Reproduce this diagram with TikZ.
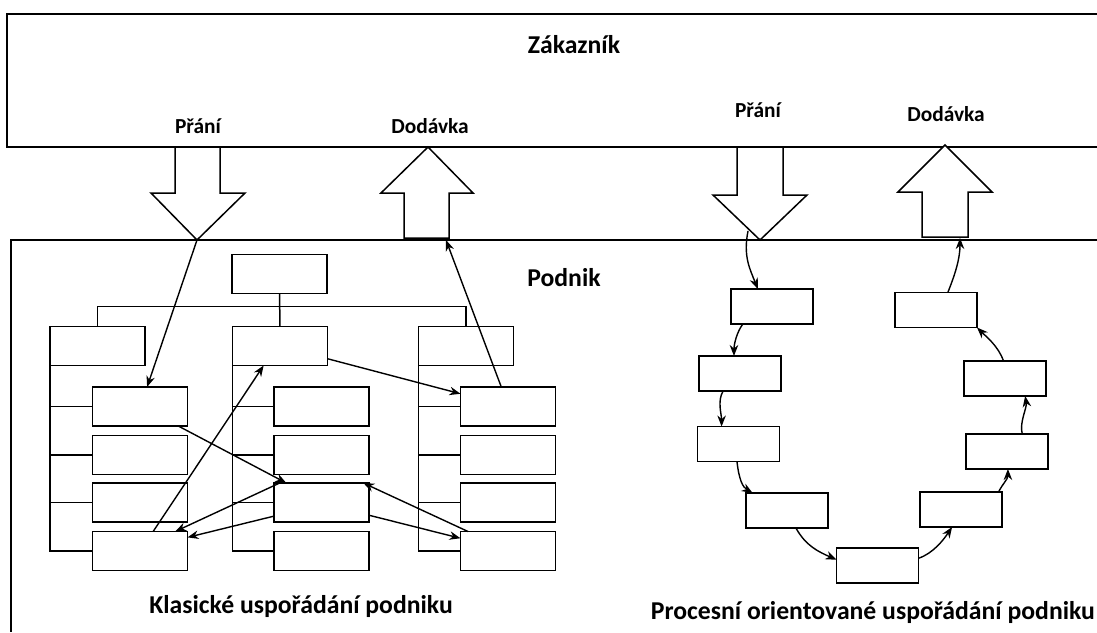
\documentclass[tikz,border=0pt]{standalone}
\usepackage{fontspec}
\setmainfont{Carlito}
\usetikzlibrary{arrows.meta}
\begin{document}
\begin{tikzpicture}[x=1pt,y=-1pt,
  box/.style={draw, line width=1.5pt, minimum width=95pt, minimum height=39pt, inner sep=0pt, outer sep=0pt},
  pbox/.style={draw, line width=1.5pt, minimum width=82pt, minimum height=35pt, inner sep=0pt, outer sep=0pt},
  frame/.style={line width=1.5pt},
  tree/.style={line width=1.5pt},
  blockarrow/.style={draw, fill=white, line width=1.5pt, line join=miter},
  link/.style={line width=1.4pt, -{Stealth[length=11pt,width=8.5pt]}},
  bigtext/.style={font=\bfseries\fontsize{25.7}{30}\selectfont, inner sep=0pt, anchor=base},
  smalltext/.style={font=\bfseries\fontsize{21.4}{25}\selectfont, inner sep=0pt, anchor=base}
]
\useasboundingbox (0,0) rectangle (1097,632);
\fill[white] (0,0) rectangle (1097,632);

% frames
\draw[frame] (1097,14) -- (7,14) -- (7,147) -- (1097,147);
\draw[frame] (1097,240) -- (11,240) -- (11,632);

% block arrows
\draw[blockarrow] (175,147) -- (220,147) -- (220,193) -- (245,193) -- (197,240) -- (151,193) -- (175,193) -- cycle;
\draw[blockarrow] (404,238) -- (449,238) -- (449,193) -- (473,193) -- (428,147) -- (381,193) -- (404,193) -- cycle;
\draw[blockarrow] (737,147) -- (783,147) -- (783,195) -- (807,195) -- (760,240) -- (713,195) -- (737,195) -- cycle;
\draw[blockarrow] (922,237) -- (968,237) -- (968,192) -- (992,192) -- (945,145) -- (898,192) -- (922,192) -- cycle;

\coordinate (pL) at (197,240);
\coordinate (dL) at (446,240);
\coordinate (pR) at (748,231);
\coordinate (dR) at (960,238);

% texts
\node[bigtext] (zak) at (574,53) {Zákazník};
\node[smalltext] (pl) at (198,133) {Přání};
\node[smalltext] (dl) at (430,133) {Dodávka};
\node[smalltext] (pr) at (758,117) {Přání};
\node[smalltext] (dr) at (946,121) {Dodávka};
\node[bigtext] (pod) at (564,286) {Podnik};
\node[bigtext] (kl) at (301,613) {Klasické uspořádání podniku};
\node[bigtext, anchor=base east] (pro) at (1095,619) {Procesní orientované uspořádání podniku};

% classic tree
\node[box] (T) at (279.5,274) {};
\node[box] (HL) at (97.5,346) {};
\node[box] (HM) at (280,346) {};
\node[box] (HR) at (466,346) {};
\foreach \c/\x in {L/140,M/321.5,R/508}{
  \node[box] (\c1) at (\x,406.5) {};
  \node[box] (\c2) at (\x,455) {};
  \node[box] (\c3) at (\x,502.5) {};
  \node[box] (\c4) at (\x,551) {};
}
\draw[tree] (T.south) -- (HM.north);
\draw[tree] (HL.north) -- ++(0,-20) -| (HR.north);
\foreach \h/\c in {HL/L,HM/M,HR/R}{
  \draw[tree] (\h.south west) -- (\h.south west |- \c4.west) -- (\c4.west);
  \draw[tree] (\h.south west |- \c1.west) -- (\c1.west);
  \draw[tree] (\h.south west |- \c2.west) -- (\c2.west);
  \draw[tree] (\h.south west |- \c3.west) -- (\c3.west);
}

% classic connectors
\draw[link] (pL) -- (L1.70);
\draw[link] (R1.109) -- (dL);
\draw[link] (HM.-15) -- (R1.165);
\draw[link] (L1.-27) -- (M3.151);
\draw[link] (L4.56) -- (HM.-130);
\draw[link] (M3.155) -- (L4.29);
\draw[link] (M3.196) -- (L4.16);
\draw[link] (M3.-15) -- (R4.165);
\draw[link] (R4.154) -- (M3.25);

% process boxes
\node[pbox] (B1) at (772,306.5) {};
\node[pbox] (B2) at (740,373.5) {};
\node[pbox] (B3) at (738.5,444) {};
\node[pbox] (B4) at (787,510.5) {};
\node[pbox] (B5) at (877.5,565.5) {};
\node[pbox] (B6) at (961,509.5) {};
\node[pbox] (B7) at (1007,451.5) {};
\node[pbox] (B8) at (1005,378.5) {};
\node[pbox] (B9) at (936,310) {};

% process connectors
\draw[link] (pR) .. controls +(-5,25) and +(-8,-20) .. (B1.129);
\draw[link] (B1.211) .. controls +(-6,8) and +(0,-12) .. (B2.109);
\draw[link] (B2.226) .. controls +(-6,10) and +(0,-12) .. (B3.134);
\draw[link] (B3.265) .. controls +(2,18) and +(-10,-6) .. (B4.153);
\draw[link] (B4.-63) .. controls +(10,18) and +(-18,-8) .. (B5.172);
\draw[link] (B5.10) .. controls +(15,-5) and +(-8,12) .. (B6.243);
\draw[link] (B6.25) .. controls +(4,-8) and +(0,10) .. (B7.-87);
\draw[link] (B7.49) .. controls +(-3,-12) and +(2,12) .. (B8.-41);
\draw[link] (B8.95) .. controls +(-5,-15) and +(8,8) .. (B9.south east);
\draw[link] (B9.56) .. controls +(8,-20) and +(0,20) .. (dR);
\end{tikzpicture}
\end{document}
